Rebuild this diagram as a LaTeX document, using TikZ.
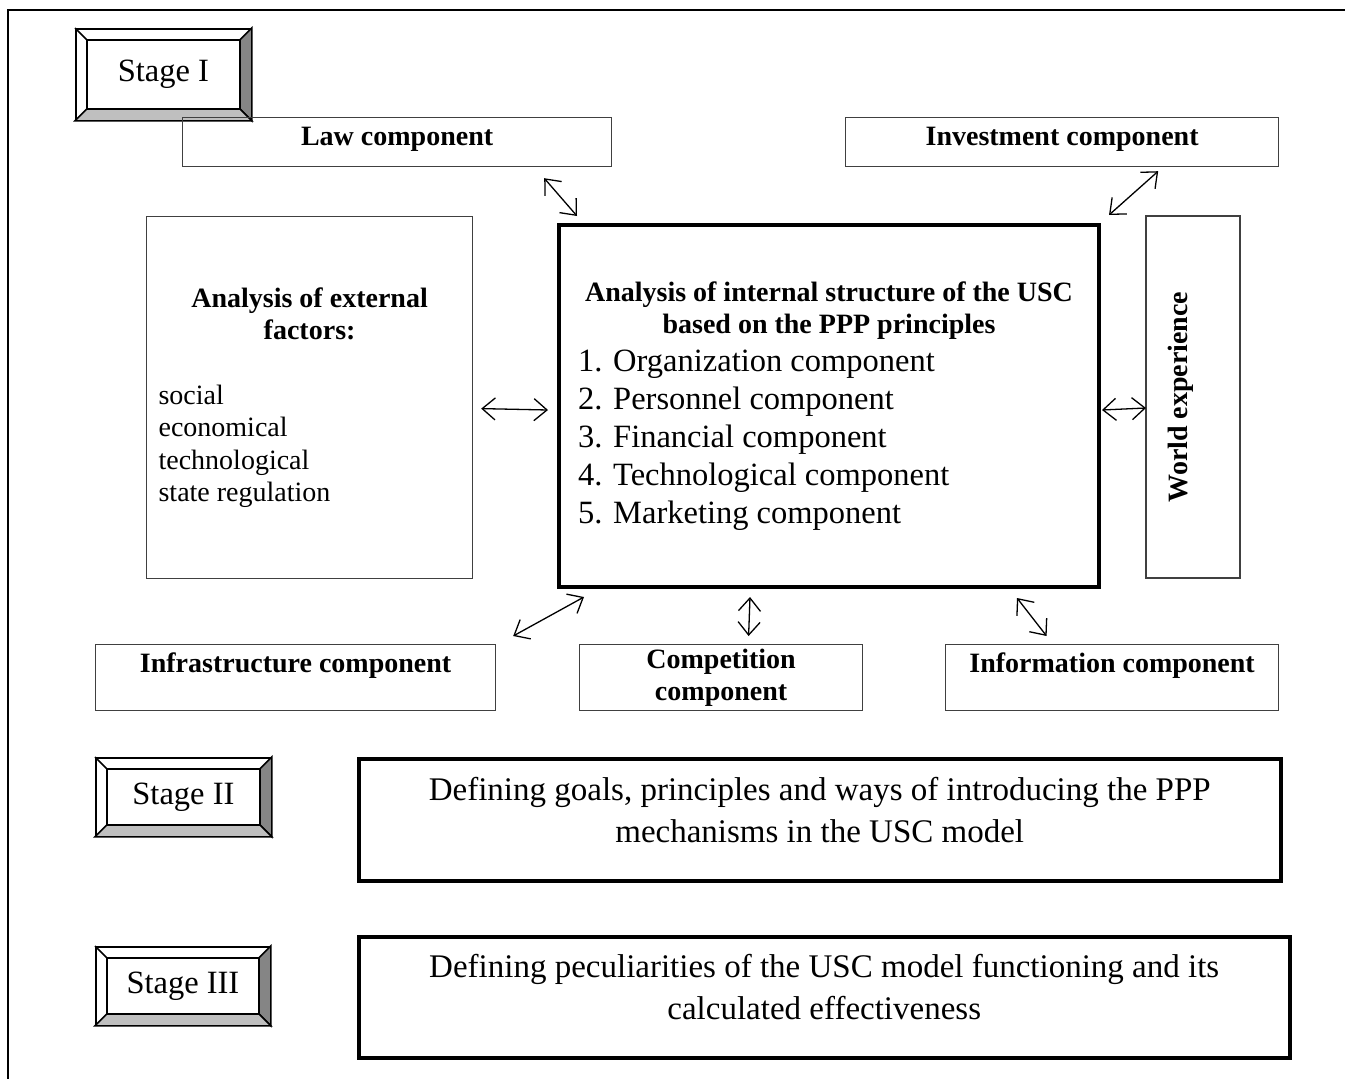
\documentclass[tikz,border=0pt]{standalone}
\usepackage{fontspec}
\setmainfont{Liberation Serif}
\usetikzlibrary{arrows.meta,positioning,calc}

\newcommand\lblfont{\fontsize{28}{32.5}\selectfont}
\newcommand\txtfont{\fontsize{32.5}{38}\selectfont}

\begin{document}
\begin{tikzpicture}[
x=1pt, y=-1pt,
thinbox/.style={draw=black!75, line width=1.2pt, anchor=north west, inner sep=0pt, align=center},
thickbox/.style={draw, line width=3.5pt, anchor=north west, inner sep=0pt},
stage/.style={draw, line width=1.8pt, anchor=north west, inner sep=0pt, font=\txtfont},
arr/.style={{Straight Barb[length=13pt,width=22pt]}-{Straight Barb[length=13pt,width=22pt]}, line width=1.3pt}
]
\useasboundingbox (0,0) rectangle (1345,1079);
\draw[line width=1.5pt] (8,1079) -- (8,10) -- (1345,10);

% stages
\node[stage, minimum width=175, minimum height=91] (st1) at (75,28) {Stage I};
\node[stage, minimum width=175, minimum height=78] (st2) at (95,757) {Stage II};
\node[stage, minimum width=174, minimum height=78] (st3) at (95,946) {Stage III};
\foreach \s in {st1,st2,st3} {
  \filldraw[fill=black!48, line width=1.6pt] (\s.north east) -- (\s.south east) -- ([xshift=-12pt,yshift=12pt]\s.south east) -- ([xshift=-12pt,yshift=-12pt]\s.north east) -- cycle;
  \filldraw[fill=black!25, line width=1.6pt] (\s.south west) -- (\s.south east) -- ([xshift=-12pt,yshift=12pt]\s.south east) -- ([xshift=12pt,yshift=12pt]\s.south west) -- cycle;
  \draw[line width=1.6pt] (\s.north west) -- ([xshift=12pt,yshift=-12pt]\s.north west);
  \draw[line width=1.6pt] ([xshift=12pt,yshift=-12pt]\s.north west) rectangle ([xshift=-12pt,yshift=12pt]\s.south east);
}

% stage I components
\node[thinbox, minimum width=429, minimum height=49, text height=20pt, text depth=13pt, font=\lblfont\bfseries] (law) at (182,117) {Law component};
\node[thinbox, minimum width=433, minimum height=49, text height=20pt, text depth=13pt, font=\lblfont\bfseries] (invest) at (845,117) {Investment component};
\node[thinbox, minimum width=326, minimum height=362] (ext) at (146,216) {\begin{minipage}{302pt}\centering\lblfont\bfseries Analysis of external\\factors:\par\vspace{32pt}\raggedright\mdseries social\\economical\\technological\\state regulation\end{minipage}};
\node[thickbox, line width=4pt, minimum width=540, minimum height=362] (usc) at (557,223) {\begin{minipage}{502pt}\centering\lblfont\bfseries Analysis of internal structure of the USC\\based on the PPP principles\par\raggedright\txtfont\mdseries 1. Organization component\\2. Personnel component\\3. Financial component\\4. Technological component\\5. Marketing component\end{minipage}};
\node[thinbox, anchor=center, rotate=90, minimum width=362, minimum height=94, text height=20pt, text depth=32pt, font=\lblfont\bfseries] (world) at (1193,397) {World experience};
\node[thinbox, minimum width=400, minimum height=66, text height=20pt, text depth=30pt, font=\lblfont\bfseries] (infra) at (95,644) {Infrastructure component};
\node[thinbox, minimum width=283, minimum height=66, font=\lblfont\bfseries] (compet) at (579,644) {\parbox[b]{270pt}{\centering Competition\\component}};
\node[thinbox, minimum width=333, minimum height=66, text height=20pt, text depth=30pt, font=\lblfont\bfseries] (inform) at (945,644) {Information component};

\draw[arr] ($(law.south east)+(-68,11)$) -- ($(usc.north west)+(20,-7)$);
\draw[arr] ($(invest.south east)+(-121,4)$) -- ($(usc.north east)+(8,-8)$);
\draw[arr] ($(ext.east)+(8,11)$) -- ($(usc.west)+(-9,4)$);
\draw[arr] ($(usc.east)+(1,4)$) -- ($(world.center)+(-47,11)$);
\draw[arr] ($(usc.south west)+(27,8)$) -- ($(infra.north east)+(17,-8)$);
\draw[arr] ($(usc.south)+(-79,8)$) -- ($(compet.north)+(27.5,-8)$);
\draw[arr] ($(usc.south east)+(-84,9)$) -- ($(inform.north)+(-65.5,-8)$);

% stages II and III
\node[thickbox, minimum width=922, minimum height=122, text depth=20pt] (goals) at (357,757) {\parbox[b]{910pt}{\centering\fontsize{33}{42}\selectfont Defining goals, principles and ways of introducing the PPP\\mechanisms in the USC model}};
\node[thickbox, minimum width=931, minimum height=121, text depth=20pt] (effect) at (357,935) {\parbox[b]{910pt}{\centering\fontsize{33}{42}\selectfont Defining peculiarities of the USC model functioning and its\\calculated effectiveness}};
\end{tikzpicture}
\end{document}
